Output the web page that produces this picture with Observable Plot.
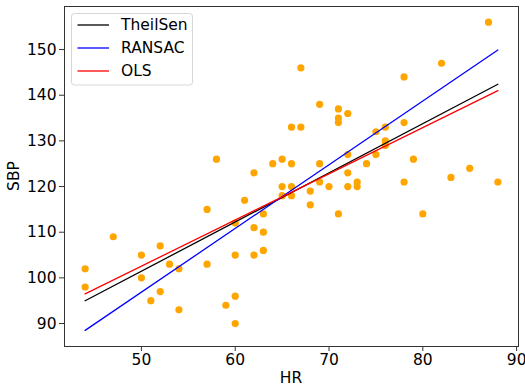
<!DOCTYPE html>
<html>
<head>
<meta charset="utf-8">
<script src="https://cdn.jsdelivr.net/npm/d3@7"></script>
<script src="https://cdn.jsdelivr.net/npm/@observablehq/plot@0.6"></script>
<style>
  html, body { margin: 0; padding: 0; background: #fff; }
  #chart svg { display: block; }
  #chart svg text { font-family: "DejaVu Sans", sans-serif !important; font-size: 15.5px !important; fill: #000; }
</style>
</head>
<body>
<div id="chart"></div>
<script>
// Scatter data: HR vs SBP
const hr = [44,44,47,50,50,51,52,52,53,54,54,57,57,58,59,60,60,60,60,61,62,62,62,63,63,63,64,65,65,65,66,66,66,66,67,67,68,68,69,69,69,70,71,71,71,71,72,72,72,72,73,73,74,75,75,76,76,76,78,78,78,79,80,82,83,85,87,88];
const sbp = [102,98,109,105,100,95,107,97,103,102,93,115,103,126,94,105,96,90,112,117,123,111,105,114,110,106,125,126,120,118,133,125,120,118,146,133,119,116,138,125,121,120,137,135,134,114,136,127,123,120,121,120,125,132,127,133,130,129,144,134,121,126,114,147,122,124,156,121];

// Fitted lines (endpoints)
const lineX = [44, 88];
const theilSen = [95.0, 142.4];
const ransac = [88.5, 149.9];
const ols = [96.5, 141.0];

const seriesNames = ["TheilSen", "RANSAC", "OLS"];
const seriesColors = ["#000000", "#0000ff", "#ff0000"];
const seriesValues = [theilSen, ransac, ols];

const xTicks = [50, 60, 70, 80, 90];
const yTicks = [90, 100, 110, 120, 130, 140, 150];

const points = hr.map((x, i) => ({x, y: sbp[i]}));
const lines = [];
seriesNames.forEach((name, s) => {
  lineX.forEach((x, i) => lines.push({series: name, x, y: seriesValues[s][i]}));
});

const W = 525, H = 388;
const mL = 64, mR = 7, mT = 6, mB = 42;

const chart = Plot.plot({
  width: W,
  height: H,
  marginLeft: mL,
  marginRight: mR,
  marginTop: mT,
  marginBottom: mB,
  style: {fontFamily: "DejaVu Sans", fontSize: "15.5px", color: "#000", background: "#fff"},
  x: {domain: [41.8, 90.2], ticks: xTicks, label: null},
  y: {domain: [84.97, 159.43], ticks: yTicks, label: null},
  color: {domain: seriesNames, range: seriesColors},
  marks: [
    Plot.dot(points, {x: "x", y: "y", r: 3.6, fill: "#FFA500", stroke: "none"}),
    Plot.line(lines, {x: "x", y: "y", z: "series", stroke: "series", strokeWidth: 1.3}),
    Plot.axisX({ticks: xTicks, tickSize: 5, tickPadding: 2, stroke: "#333", label: null}),
    Plot.axisY({ticks: yTicks, tickSize: 5, tickPadding: 3, stroke: "#333", label: null}),
    Plot.frame({stroke: "#333", strokeWidth: 1})
  ]
});

document.getElementById("chart").appendChild(chart);

const svg = d3.select(chart);
// Axis labels
svg.append("text")
  .attr("x", mL + (W - mL - mR) / 2)
  .attr("y", 383)
  .attr("text-anchor", "middle")
  .text("HR");
svg.append("text")
  .attr("transform", `translate(19,${mT + (H - mT - mB) / 2}) rotate(-90)`)
  .attr("text-anchor", "middle")
  .text("SBP");

// Legend
const lg = svg.append("g");
lg.append("rect")
  .attr("x", 71.5).attr("y", 13.5)
  .attr("width", 121).attr("height", 71.5)
  .attr("rx", 3)
  .attr("fill", "#fff").attr("fill-opacity", 0.8)
  .attr("stroke", "#d6d6d6");
seriesNames.forEach((name, i) => {
  const cy = 25 + i * 23;
  lg.append("line")
    .attr("x1", 77.5).attr("x2", 109)
    .attr("y1", cy).attr("y2", cy)
    .attr("stroke", seriesColors[i]).attr("stroke-width", 1.3);
  lg.append("text")
    .attr("x", 121).attr("y", cy)
    .attr("dy", "0.35em")
    .attr("text-anchor", "start")
    .text(name);
});
</script>
</body>
</html>
